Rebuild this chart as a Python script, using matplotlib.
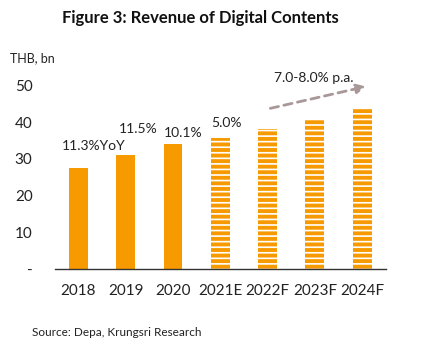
import numpy as np
import matplotlib.pyplot as plt

plt.rcParams['font.family'] = ['Lato', 'DejaVu Sans']
plt.rcParams['hatch.linewidth'] = 1.2

years = ['2018', '2019', '2020', '2021E', '2022F', '2023F', '2024F']
revenue = [27.6, 31.0, 34.1, 35.8, 38.1, 40.8, 43.6]
forecast = [False, False, False, True, True, True, True]
growth = ['11.3%YoY', '11.5%', '10.1%', '5.0%']
growth_x = [-0.36, 0.86, 1.81, 2.8]
growth_y = [33.6, 38.1, 37.1, 39.8]

orange = '#F79A00'
fig = plt.figure(figsize=(4.35, 3.46), dpi=100)
ax = fig.add_axes([0.126, 0.2225, 0.761, 0.5835])

x = np.arange(len(years))
for xi, v, f in zip(x, revenue, forecast):
    if f:
        ax.bar(xi, v, width=0.4, color=orange, edgecolor='white', hatch='---', linewidth=0)
    else:
        ax.bar(xi, v, width=0.4, color=orange, linewidth=0)

for t, gx, gy in zip(growth, growth_x, growth_y):
    ax.text(gx, gy, t, fontsize=10, color='#222222', ha='left', va='center')

# trend arrow
ax.annotate('', xy=(6.14, 49.9), xytext=(4.0, 43.6),
            arrowprops=dict(arrowstyle='-|>', color='#a89898', lw=2, ls=(0, (3, 2)),
                            mutation_scale=14))
ax.text(4.98, 52, '7.0-8.0% p.a.', fontsize=10, color='#222222', ha='center', va='center')

ax.set_xlim(-0.5, 6.5)
ax.set_ylim(0, 55)
ax.set_yticks([0, 10, 20, 30, 40, 50])
ax.set_yticklabels(['-', '10', '20', '30', '40', '50'])
ax.set_xticks(x)
ax.set_xticklabels(years)
ax.tick_params(axis='y', length=0, pad=16, labelsize=11, labelcolor='#222222')
ax.tick_params(axis='x', length=0, pad=11, labelsize=11, labelcolor='#222222')
for s in ['top', 'right', 'left']:
    ax.spines[s].set_visible(False)
ax.spines['bottom'].set_color('#333333')
ax.spines['bottom'].set_linewidth(1)

fig.text(0.46, 0.948, 'Figure 3: Revenue of Digital Contents', fontsize=12,
         fontweight='bold', ha='center', va='center', color='#111111')
fig.text(0.023, 0.832, 'THB, bn', fontsize=9, ha='left', va='center', color='#222222')
fig.text(0.074, 0.04, 'Source: Depa, Krungsri Research', fontsize=8.5, ha='left',
         va='center', color='#222222')

fig.savefig('out.png', dpi=100)
